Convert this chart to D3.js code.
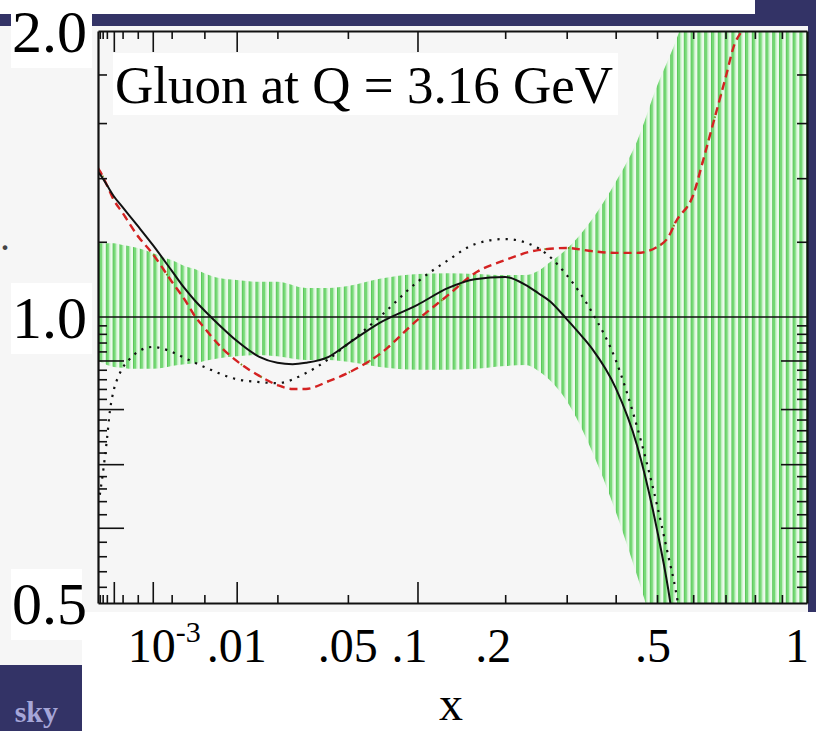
<!DOCTYPE html>
<html><head><meta charset="utf-8">
<script src="https://cdn.jsdelivr.net/npm/d3@7"></script>
<style>html,body{margin:0;padding:0;background:#fff;} svg{display:block;}</style>
</head><body>
<svg id="c" width="816" height="731"></svg>
<script>
// ---------------- data ----------------
const bandX  = [1.5e-5, 2e-5, 5e-5, 1e-4, 2e-4, 3e-4, 5e-4, 1e-3, 1.5e-3, 2e-3, 3e-3, 4e-3, 5e-3, 7e-3, 0.01, 0.015, 0.02, 0.03, 0.04, 0.05, 0.07, 0.1, 0.13, 0.16, 0.2, 0.23, 0.25, 0.27, 0.3, 0.35, 0.4, 0.45, 0.5, 0.55, 0.6, 0.7, 0.8, 0.9, 1.0];
const bandHi = [1.196, 1.196, 1.196, 1.196, 1.191, 1.188, 1.182, 1.168, 1.156, 1.148, 1.131, 1.123, 1.112, 1.099, 1.094, 1.089, 1.089, 1.073, 1.073, 1.078, 1.097, 1.110, 1.112, 1.110, 1.107, 1.107, 1.118, 1.142, 1.179, 1.268, 1.387, 1.532, 1.75, 1.95, 2.2, 2.6, 3.0, 3.4, 3.8];
const bandLo = [0.897, 0.897, 0.890, 0.886, 0.884, 0.882, 0.882, 0.882, 0.884, 0.888, 0.892, 0.894, 0.899, 0.905, 0.909, 0.912, 0.909, 0.901, 0.901, 0.897, 0.886, 0.880, 0.880, 0.882, 0.888, 0.890, 0.878, 0.858, 0.816, 0.721, 0.624, 0.534, 0.46, 0.42, 0.38, 0.33, 0.30, 0.27, 0.25];

const solidX = [1.5e-5, 2e-5, 5e-5, 1e-4, 2e-4, 5e-4, 1e-3, 2e-3, 3e-3, 4e-3, 5e-3, 7e-3, 0.01, 0.015, 0.02, 0.025, 0.03, 0.04, 0.05, 0.07, 0.1, 0.13, 0.16, 0.2, 0.23, 0.25, 0.27, 0.3, 0.33, 0.35, 0.4, 0.45, 0.5, 0.53, 0.55];
const solidY = [1.421, 1.414, 1.377, 1.340, 1.305, 1.247, 1.191, 1.119, 1.071, 1.039, 1.016, 0.981, 0.944, 0.908, 0.895, 0.892, 0.895, 0.908, 0.937, 0.986, 1.030, 1.073, 1.096, 1.102, 1.081, 1.060, 1.039, 0.995, 0.953, 0.925, 0.842, 0.732, 0.597, 0.516, 0.457];

const redX = [1.5e-5, 2e-5, 5e-5, 1e-4, 2e-4, 5e-4, 1e-3, 2e-3, 3e-3, 4e-3, 5e-3, 7e-3, 0.01, 0.015, 0.02, 0.025, 0.03, 0.04, 0.05, 0.07, 0.1, 0.13, 0.16, 0.2, 0.25, 0.3, 0.35, 0.4, 0.45, 0.5, 0.53, 0.55, 0.6, 0.63, 0.65, 0.7, 0.73, 0.75];
const redY = [1.435, 1.425, 1.377, 1.328, 1.287, 1.217, 1.165, 1.090, 1.042, 1.000, 0.974, 0.934, 0.899, 0.867, 0.848, 0.840, 0.840, 0.856, 0.873, 0.914, 0.993, 1.055, 1.112, 1.148, 1.176, 1.182, 1.173, 1.168, 1.168, 1.185, 1.214, 1.259, 1.344, 1.463, 1.551, 1.785, 1.938, 1.99];

const dotX = [2e-5, 3e-5, 5e-5, 7e-5, 1e-4, 1.5e-4, 2e-4, 3e-4, 5e-4, 1e-3, 2e-3, 3e-3, 5e-3, 0.01, 0.015, 0.02, 0.03, 0.04, 0.05, 0.07, 0.1, 0.13, 0.16, 0.2, 0.25, 0.3, 0.35, 0.4, 0.45, 0.5, 0.53, 0.55, 0.56];
const dotY = [0.650, 0.682, 0.742, 0.798, 0.838, 0.867, 0.884, 0.901, 0.919, 0.930, 0.919, 0.905, 0.886, 0.860, 0.854, 0.852, 0.873, 0.903, 0.937, 1.0, 1.089, 1.148, 1.193, 1.208, 1.182, 1.107, 1.010, 0.901, 0.766, 0.634, 0.560, 0.516, 0.49];

const xMajorTicks = [1e-4, 1e-3, 0.01, 0.1];
const xMinorTicks = [2e-5, 3e-5, 5e-5, 2e-4, 5e-4, 2e-3, 5e-3, 0.02, 0.05, 0.2, 0.3, 0.4, 0.5, 0.6, 0.7, 0.8, 0.9];
const yMajorTicks = [0.6, 0.7, 0.8, 0.9];
const yMinorTicks = [0.52, 0.54, 0.56, 0.58, 0.62, 0.64, 0.66, 0.68, 0.72, 0.74, 0.76, 0.78, 0.82, 0.84, 0.86, 0.88, 0.92, 0.94, 0.96, 0.98, 1.2, 1.4, 1.6, 1.8];
const yLabelValues = [0.5, 1.0, 2.0];
const yLabelTexts  = ["0.5", "1.0", "2.0"];
const xLabelValues = [0.01, 0.05, 0.1, 0.2, 0.5, 1];
const xLabelTexts  = [".01", ".05", ".1", ".2", ".5", "1"];
const titleText = "Gluon at Q = 3.16 GeV";
const xAxisTitle = "x";

// ---------------- layout ----------------
const W = 816, H = 731;
const L = 98, R = 807, T = 31, B = 603;
const NAVY = "#333366";
const FONT = "'Liberation Serif','Times New Roman',serif";

const svg = d3.select("#c");
const x = d3.scalePow().exponent(1/3).domain([1.5e-5, 1]).range([L, R]);
const y = d3.scaleLog().domain([0.5, 2]).range([B, T]);

// background decoration
svg.append("rect").attr("width", W).attr("height", H).attr("fill", "#fff");
svg.append("rect").attr("x", 0).attr("y", 26).attr("width", 808).attr("height", 586).attr("fill", "#f6f6f6");
svg.append("rect").attr("x", 0).attr("y", 612).attr("width", 82).attr("height", 53).attr("fill", "#f6f6f6");
svg.append("rect").attr("x", 0).attr("y", 14).attr("width", W).attr("height", 12).attr("fill", NAVY);
svg.append("rect").attr("x", 755).attr("y", 0).attr("width", 61).attr("height", 26).attr("fill", NAVY);
svg.append("rect").attr("x", 808).attr("y", 0).attr("width", 8).attr("height", 612).attr("fill", NAVY);
svg.append("rect").attr("x", 0).attr("y", 665).attr("width", 82).attr("height", 66).attr("fill", NAVY);
svg.append("text").attr("x", 58).attr("y", 722).attr("text-anchor", "end")
  .attr("font-family", FONT).attr("font-weight", "bold").attr("font-size", 30)
  .attr("fill", "#a6a6d8").text("sky");
svg.append("text").attr("x", 0).attr("y", 250).attr("font-family", FONT).attr("font-size", 40)
  .attr("fill", "#444").text(".");

// defs: clip + stripe pattern
const defs = svg.append("defs");
defs.append("clipPath").attr("id", "plotclip").append("rect")
  .attr("x", L).attr("y", T).attr("width", R - L).attr("height", B - T);
const pat = defs.append("pattern").attr("id", "stripes").attr("patternUnits", "userSpaceOnUse")
  .attr("x", 99).attr("y", 0).attr("width", 6.8).attr("height", 20);
pat.append("rect").attr("width", 6.8).attr("height", 20).attr("fill", "#eefaee");
pat.append("rect").attr("x", 0).attr("width", 1).attr("height", 20).attr("fill", "#5cc85c");
pat.append("rect").attr("x", 1).attr("width", 2.4).attr("height", 20).attr("fill", "#74d874");
pat.append("rect").attr("x", 3.4).attr("width", 1).attr("height", 20).attr("fill", "#c0f2c0");

const plot = svg.append("g").attr("clip-path", "url(#plotclip)");

// band
const bandData = bandX.map((v, i) => ({x: v, hi: bandHi[i], lo: bandLo[i]}));
plot.append("path").datum(bandData)
  .attr("fill", "url(#stripes)")
  .attr("d", d3.area().x(d => x(d.x)).y0(d => y(d.lo)).y1(d => y(d.hi)).curve(d3.curveMonotoneX));

// reference line at 1
plot.append("line").attr("x1", L).attr("x2", R).attr("y1", y(1)).attr("y2", y(1))
  .attr("stroke", "#111").attr("stroke-width", 1.6);

const lineGen = d3.line().x(d => x(d[0])).y(d => y(d[1])).curve(d3.curveMonotoneX);
const zip = (a, b) => a.map((v, i) => [v, b[i]]);

// olive dotted companion under red dashed
plot.append("path").datum(zip(redX, redY)).attr("d", lineGen)
  .attr("fill", "none").attr("stroke", "#7a8a1a").attr("stroke-width", 2)
  .attr("stroke-dasharray", "1.5,22").attr("stroke-dashoffset", -9);
// red dashed
plot.append("path").datum(zip(redX, redY)).attr("d", lineGen)
  .attr("fill", "none").attr("stroke", "#d42222").attr("stroke-width", 2.4)
  .attr("stroke-dasharray", "8,5");
// black dotted
plot.append("path").datum(zip(dotX, dotY)).attr("d", lineGen)
  .attr("fill", "none").attr("stroke", "#111").attr("stroke-width", 2.2)
  .attr("stroke-dasharray", "2.2,6");
// black solid
plot.append("path").datum(zip(solidX, solidY)).attr("d", lineGen)
  .attr("fill", "none").attr("stroke", "#111").attr("stroke-width", 2);

// axes (frame + inward ticks)
function styleAxis(g, keepDomain) {
  g.selectAll("text").remove();
  g.selectAll(".tick line").attr("stroke", "#111").attr("stroke-width", 1.6);
  if (keepDomain) g.select(".domain").attr("stroke", "#111").attr("stroke-width", 2.2);
  else g.select(".domain").remove();
}
function axisPair(gen, scale, major, minor, lenMaj, lenMin, transform) {
  const g1 = svg.append("g").attr("transform", transform)
    .call(gen(scale).tickValues(major).tickSizeInner(-lenMaj).tickSizeOuter(0).tickFormat(""));
  styleAxis(g1, true);
  const g2 = svg.append("g").attr("transform", transform)
    .call(gen(scale).tickValues(minor).tickSizeInner(-lenMin).tickSizeOuter(0).tickFormat(""));
  styleAxis(g2, false);
}
axisPair(d3.axisBottom, x, xMajorTicks, xMinorTicks, 21, 8, `translate(0,${B})`);
axisPair(d3.axisTop, x, xMajorTicks, xMinorTicks, 21, 8, `translate(0,${T})`);
axisPair(d3.axisLeft, y, yMajorTicks, yMinorTicks, 26, 9, `translate(${L},0)`);
axisPair(d3.axisRight, y, yMajorTicks, yMinorTicks, 26, 10, `translate(${R},0)`);

// y labels with white boxes
yLabelValues.forEach((v, i) => {
  const cy = y(v);
  const top = Math.max(0, cy - 34);
  svg.append("rect").attr("x", 11).attr("y", top).attr("width", v === 0.5 ? 71 : 81)
    .attr("height", cy + 37 - top).attr("fill", "#fff");
  svg.append("text").attr("x", 87).attr("y", cy + 21).attr("text-anchor", "end")
    .attr("font-family", FONT).attr("font-size", 60).attr("fill", "#000").text(yLabelTexts[i]);
});

// x labels
const xl = svg.append("g").attr("font-family", FONT).attr("font-size", 48).attr("fill", "#000");
const t3 = xl.append("text").attr("x", x(1e-3) - 25).attr("y", 662);
t3.append("tspan").text("10");
t3.append("tspan").attr("font-size", 30).attr("dy", -20).text("-3");
xLabelValues.forEach((v, i) => {
  const dx = {".1": -8, ".2": -12, ".5": -4, "1": -10}[xLabelTexts[i]] || 0;
  xl.append("text").attr("x", x(v) + dx).attr("y", 662).attr("text-anchor", "middle").text(xLabelTexts[i]);
});
svg.append("text").attr("x", 451).attr("y", 720).attr("text-anchor", "middle")
  .attr("font-family", FONT).attr("font-size", 48).attr("fill", "#000").text(xAxisTitle);

// title box
svg.append("rect").attr("x", 113).attr("y", 53).attr("width", 505).attr("height", 62).attr("fill", "#fff");
svg.append("text").attr("x", 115).attr("y", 103).attr("font-family", FONT).attr("font-size", 53)
  .attr("fill", "#000").text(titleText);
</script>
</body></html>
